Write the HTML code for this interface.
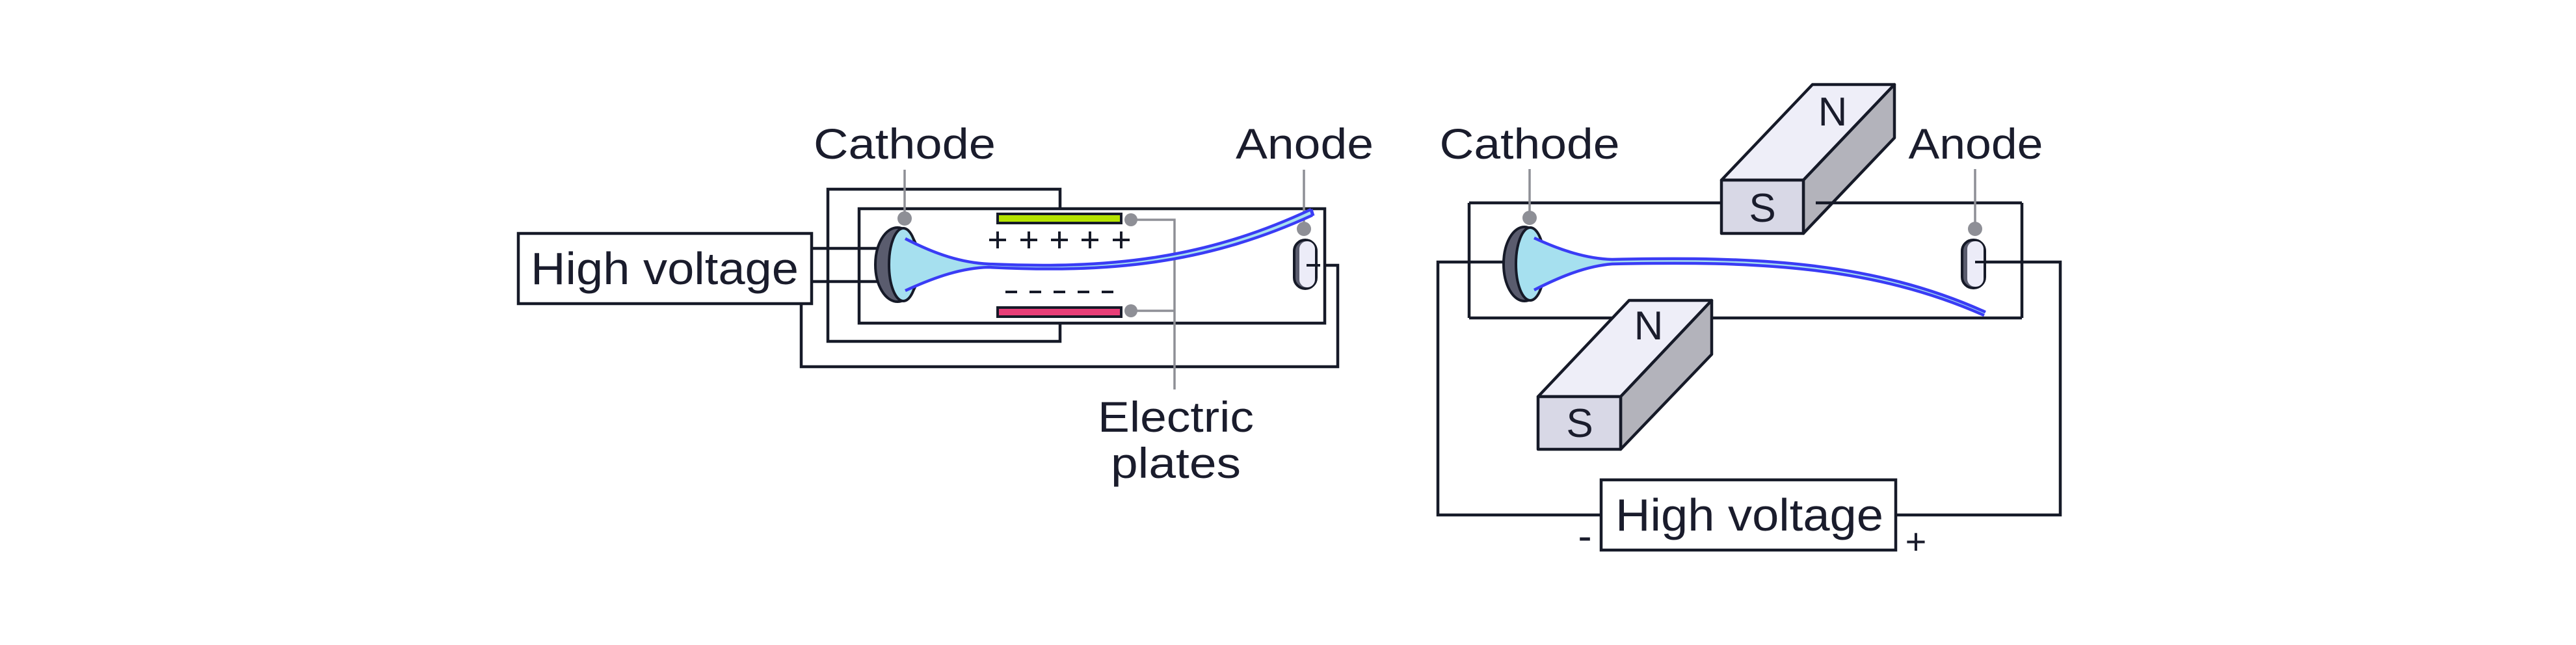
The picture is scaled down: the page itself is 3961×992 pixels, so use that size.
<!DOCTYPE html>
<html><head><meta charset="utf-8"><style>
html,body{margin:0;padding:0;background:#fff;}
svg{display:block;}
text{font-family:"Liberation Sans",sans-serif;fill:#1a1c2c;}
</style></head><body>
<svg width="3961" height="992" viewBox="0 0 3961 992" xmlns="http://www.w3.org/2000/svg">
<g fill="none" stroke="#161a28" stroke-width="4.5">
<rect x="1273" y="291" width="357" height="234"/>
<polyline points="1232,466 1232,564 2057,564 2057,408 2009,408"/>
<rect x="1321" y="321" width="716" height="176" fill="#fff"/>
<line x1="1248" y1="382" x2="1360" y2="382"/>
<line x1="1248" y1="433" x2="1360" y2="433"/>
<rect x="797" y="359" width="451" height="108" fill="#fff"/>
</g>
<text x="816" y="437" font-size="70" textLength="412" lengthAdjust="spacingAndGlyphs">High voltage</text>
<rect x="1534" y="329" width="190" height="14" fill="#b5e400" stroke="#161a28" stroke-width="4"/>
<rect x="1534" y="473" width="190" height="14" fill="#e83e78" stroke="#161a28" stroke-width="4"/>
<g stroke="#161a28" stroke-width="4">
<path d="M1534,356v26M1521,369h26M1582,356v26M1569,369h26M1629,356v26M1616,369h26M1676,356v26M1663,369h26M1724,356v26M1711,369h26"/>
<path d="M1546,449h18M1583,449h18M1620,449h18M1657,449h18M1694,449h18"/>
</g>
<g stroke="#8e8f96" stroke-width="3.5" fill="none">
<polyline points="1739,338 1806,338 1806,599"/>
<line x1="1739" y1="478" x2="1806" y2="478"/>
<line x1="1391" y1="261" x2="1391" y2="335"/>
<line x1="2005" y1="261" x2="2005" y2="352"/>
</g>
<circle cx="1739" cy="338" r="10" fill="#8e8f96"/>
<circle cx="1739" cy="478" r="10" fill="#8e8f96"/>
<circle cx="1391" cy="336" r="11" fill="#8e8f96"/>
<circle cx="2005" cy="352" r="11" fill="#8e8f96"/>
<ellipse cx="1380" cy="407" rx="34" ry="57" fill="#5a5c6e" stroke="#161a28" stroke-width="4"/>
<ellipse cx="1389" cy="407" rx="22" ry="56" fill="#a6e0ef" stroke="#161a28" stroke-width="4"/>
<path d="M1392,367 C1440,392 1480,404 1520,405 C1700,412 1850,400 2016,322 L2018,330 C1850,410 1700,418 1520,411 C1480,412 1440,425 1392,447 Z" fill="#a6e0ef"/>
<path d="M1392,367 C1440,392 1480,404 1520,406 C1700,414 1850,400 2016,322" fill="none" stroke="#3a3cf5" stroke-width="4.5"/>
<path d="M1392,447 C1440,425 1480,412 1520,411 C1700,420 1850,408 2018,331" fill="none" stroke="#3a3cf5" stroke-width="4.5"/>
<path d="M2016,322 L2019,332" stroke="#3a3cf5" stroke-width="5"/>
<rect x="1990" y="369" width="34" height="75" rx="17" fill="#5a5c6e" stroke="#161a28" stroke-width="4"/>
<rect x="1998" y="371" width="24" height="71" rx="12" fill="#ececf8"/>
<line x1="2009" y1="408" x2="2030" y2="408" stroke="#161a28" stroke-width="4"/>
<text x="1391" y="244" font-size="66" text-anchor="middle" textLength="280" lengthAdjust="spacingAndGlyphs">Cathode</text>
<text x="2006" y="244" font-size="66" text-anchor="middle" textLength="212" lengthAdjust="spacingAndGlyphs">Anode</text>
<text x="1808" y="664" font-size="66" text-anchor="middle" textLength="240" lengthAdjust="spacingAndGlyphs">Electric</text>
<text x="1808" y="735" font-size="66" text-anchor="middle" textLength="200" lengthAdjust="spacingAndGlyphs">plates</text>

<g fill="none" stroke="#161a28" stroke-width="4.5">
<line x1="2259" y1="312" x2="2647" y2="312"/>
<line x1="2259" y1="312" x2="2259" y2="489"/>
<line x1="3109" y1="312" x2="3109" y2="489"/>
<line x1="2259" y1="489" x2="3109" y2="489"/>
<polyline points="2312,403 2211,403 2211,792 2462,792"/>
<polyline points="2915,792 3168,792 3168,403 3042,403"/>
<rect x="2462" y="738" width="453" height="108" fill="#fff"/>
</g>
<text x="2484" y="816" font-size="70" textLength="412" lengthAdjust="spacingAndGlyphs">High voltage</text>
<text x="2437" y="846" font-size="64" text-anchor="middle">-</text>
<text x="2946" y="852" font-size="56" text-anchor="middle">+</text>
<g stroke="#161a28" stroke-width="4.5" stroke-linejoin="round">
<polygon points="2647,277 2773,277 2913,130 2787,130" fill="#eeeef8"/>
<polygon points="2773,277 2913,130 2913,212 2773,359" fill="#b3b3bb"/>
<rect x="2647" y="277" width="126" height="82" fill="#d8d8e6"/>
</g>
<line x1="2792" y1="312" x2="3109" y2="312" stroke="#161a28" stroke-width="4.5"/>
<text x="2818" y="193" font-size="62" text-anchor="middle">N</text>
<text x="2710" y="341" font-size="62" text-anchor="middle">S</text>
<g stroke="#161a28" stroke-width="4.5" stroke-linejoin="round">
<polygon points="2365,610 2492,610 2632,462 2505,462" fill="#eeeef8"/>
<polygon points="2492,610 2632,462 2632,545 2492,691" fill="#b3b3bb"/>
<rect x="2365" y="610" width="127" height="81" fill="#d8d8e6"/>
</g>
<text x="2535" y="522" font-size="62" text-anchor="middle">N</text>
<text x="2429" y="672" font-size="62" text-anchor="middle">S</text>
<line x1="2352" y1="260" x2="2352" y2="335" stroke="#8e8f96" stroke-width="3.5"/>
<line x1="3037" y1="260" x2="3037" y2="352" stroke="#8e8f96" stroke-width="3.5"/>
<circle cx="2352" cy="335" r="11" fill="#8e8f96"/>
<circle cx="3037" cy="352" r="11" fill="#8e8f96"/>
<ellipse cx="2344" cy="406" rx="32" ry="57" fill="#5a5c6e" stroke="#161a28" stroke-width="4"/>
<ellipse cx="2353" cy="406" rx="22" ry="56" fill="#a6e0ef" stroke="#161a28" stroke-width="4"/>
<path d="M2359,366 C2400,385 2440,398 2479,400 C2700,396 2880,405 3052,481 L3050,485 C2880,410 2700,404 2479,405 C2440,408 2400,425 2359,446 Z" fill="#a6e0ef"/>
<path d="M2359,366 C2400,385 2440,398 2479,399 C2700,394 2880,402 3053,480" fill="none" stroke="#3a3cf5" stroke-width="4.5"/>
<path d="M2359,446 C2400,425 2440,409 2479,406 C2700,401 2880,409 3051,485" fill="none" stroke="#3a3cf5" stroke-width="4.5"/>
<rect x="3017" y="369" width="35" height="74" rx="17" fill="#5a5c6e" stroke="#161a28" stroke-width="4"/>
<rect x="3025" y="371" width="25" height="70" rx="12" fill="#ececf8"/>
<line x1="3037" y1="403" x2="3060" y2="403" stroke="#161a28" stroke-width="4"/>
<text x="2352" y="244" font-size="66" text-anchor="middle" textLength="277" lengthAdjust="spacingAndGlyphs">Cathode</text>
<text x="3038" y="244" font-size="66" text-anchor="middle" textLength="207" lengthAdjust="spacingAndGlyphs">Anode</text>
</svg>
</body></html>
